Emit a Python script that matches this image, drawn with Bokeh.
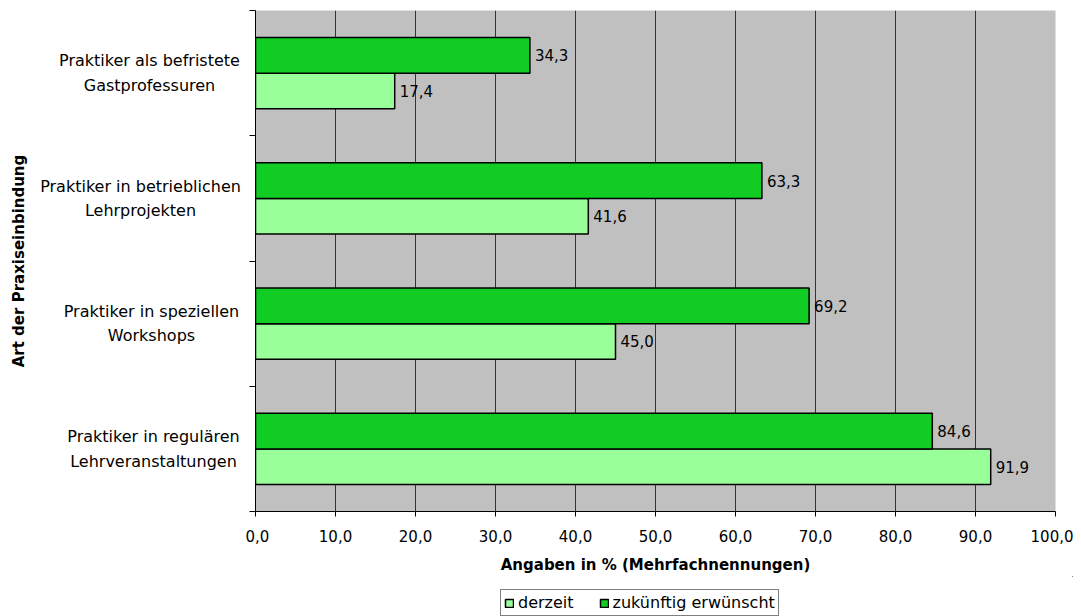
from bokeh.plotting import figure
from bokeh.layouts import row, column
from bokeh.models import Range1d, FixedTicker, ColumnDataSource, Legend, LegendItem
from bokeh.core.properties import value
from bokeh.embed import file_html
from bokeh.resources import INLINE
import math

categories = [
    "Praktiker in regulären\nLehrveranstaltungen",
    "Praktiker in speziellen\nWorkshops",
    "Praktiker in betrieblichen\nLehrprojekten",
    "Praktiker als befristete\nGastprofessuren",
]
derzeit = [91.9, 45.0, 41.6, 17.4]
zukuenftig = [84.6, 69.2, 63.3, 34.3]
series_names = ["derzeit", "zukünftig erwünscht"]
x_ticks = [0, 10, 20, 30, 40, 50, 60, 70, 80, 90, 100]
x_title = "Angaben in % (Mehrfachnennungen)"
y_title = "Art der Praxiseinbindung"

FONT = "DejaVu Sans"
LIGHT = "#99FF99"
DARK = "#11CC22"

centers = [i + 0.5 for i in range(len(categories))]
bar_h = 0.284
y_range = Range1d(0, len(categories))

def fmt(v):
    return f"{v:.1f}".replace(".", ",")

src_d = ColumnDataSource(dict(y=[c - bar_h / 2 for c in centers], x=derzeit,
                              lbl=[fmt(v) for v in derzeit]))
src_z = ColumnDataSource(dict(y=[c + bar_h / 2 for c in centers], x=zukuenftig,
                              lbl=[fmt(v) for v in zukuenftig]))

# ---- left panel: category labels (centered lines, block ending near the axis) and y title ----
LEFT_W = 245
label_cx = [153, 151, 140, 149]   # horizontal centre of each label block (px)
lp = figure(frame_width=LEFT_W, frame_height=501, output_backend="svg", toolbar_location=None,
            x_range=Range1d(0, LEFT_W), y_range=y_range,
            x_axis_location=None, y_axis_location=None,
            min_border_left=0, min_border_right=0, min_border_top=10, min_border_bottom=0)
lp.outline_line_color = None
lp.background_fill_color = "white"
lp.border_fill_color = "white"
lp.xgrid.grid_line_color = None
lp.ygrid.grid_line_color = None
cat_src = ColumnDataSource(dict(x=label_cx, y=centers, t=categories))
lp.text(x="x", y="y", text="t", source=cat_src, text_align="center", text_baseline="middle",
        text_font=value(FONT), text_font_size="16px", text_color="black", text_line_height=1.3)
lp.text(x=[18], y=[len(categories) / 2], text=[y_title], angle=math.pi / 2,
        text_align="center", text_baseline="middle", text_font=value(FONT),
        text_font_size="15px", text_font_style="bold", text_color="black")

# ---- main chart ----
p = figure(frame_width=800, frame_height=501, output_backend="svg", toolbar_location=None,
           x_range=Range1d(0, 100), y_range=y_range,
           min_border_left=10, min_border_right=18, min_border_top=10, min_border_bottom=0)
p.background_fill_color = "#C0C0C0"
p.border_fill_color = "white"
p.outline_line_color = None

r_d = p.hbar(y="y", right="x", left=0, height=bar_h, source=src_d,
             fill_color=LIGHT, line_color="black", line_width=1.5)
r_z = p.hbar(y="y", right="x", left=0, height=bar_h, source=src_z,
             fill_color=DARK, line_color="black", line_width=1.5)

for src in (src_d, src_z):
    p.text(x="x", y="y", text="lbl", source=src, x_offset=5,
           text_baseline="middle", text_align="left",
           text_font=value(FONT), text_font_size="15px", text_color="black")

# x axis
p.xaxis.ticker = FixedTicker(ticks=x_ticks)
p.xaxis.major_label_overrides = {t: fmt(t) for t in x_ticks}
p.xaxis.major_label_text_font = FONT
p.xaxis.major_label_text_font_size = "15px"
p.xaxis.major_label_text_color = "black"
p.xaxis.major_tick_out = 5
p.xaxis.major_tick_in = 0
p.xaxis.minor_tick_line_color = None
p.xaxis.major_label_standoff = 13
p.xaxis.axis_line_color = "black"
p.xaxis.major_tick_line_color = "black"
p.xaxis.axis_label = x_title
p.xaxis.axis_label_text_font = FONT
p.xaxis.axis_label_text_font_size = "15px"
p.xaxis.axis_label_text_font_style = "bold"
p.xaxis.axis_label_text_color = "black"
p.xaxis.axis_label_standoff = 11

# y axis: only the separator ticks between categories
p.yaxis.ticker = FixedTicker(ticks=[], minor_ticks=list(range(len(categories) + 1)))
p.yaxis.major_tick_out = 0
p.yaxis.major_tick_in = 0
p.yaxis.minor_tick_out = 6
p.yaxis.minor_tick_in = 0
p.yaxis.minor_tick_line_color = "black"
p.yaxis.major_label_standoff = 0
p.yaxis.axis_line_color = "black"

p.ygrid.grid_line_color = None
p.xgrid.ticker = FixedTicker(ticks=x_ticks)
p.xgrid.grid_line_color = "#333333"
p.xgrid.grid_line_width = 1

# ---- legend strip below the chart (series placed out of view, only the legend shows) ----
lg = figure(frame_width=LEFT_W + 10 + 800 + 18, frame_height=40, output_backend="svg",
            toolbar_location=None, x_range=Range1d(-1000, -999), y_range=Range1d(-1000, -999),
            x_axis_location=None, y_axis_location=None,
            min_border_left=0, min_border_right=0, min_border_top=0, min_border_bottom=0)
lg.outline_line_color = None
lg.xgrid.grid_line_color = None
lg.ygrid.grid_line_color = None
lg_d = lg.hbar(y="y", right="x", left=0, height=bar_h, source=src_d,
               fill_color=LIGHT, line_color="black", line_width=1.5)
lg_z = lg.hbar(y="y", right="x", left=0, height=bar_h, source=src_z,
               fill_color=DARK, line_color="black", line_width=1.5)
legend = Legend(items=[LegendItem(label=series_names[0], renderers=[lg_d]),
                       LegendItem(label=series_names[1], renderers=[lg_z])],
                orientation="horizontal", location=(500, 0))
legend.label_text_font = FONT
legend.label_text_font_size = "16px"
legend.label_text_color = "black"
legend.glyph_width = 10
legend.glyph_height = 10
legend.label_standoff = 4
legend.spacing = 25
legend.padding = 3
legend.margin = 0
legend.border_line_color = "black"
legend.border_line_width = 1
legend.background_fill_color = "white"
legend.background_fill_alpha = 1
lg.add_layout(legend, "center")

layout = column(row(lp, p, spacing=0), lg, spacing=0)
open("out.html", "w").write(file_html(layout, INLINE))
